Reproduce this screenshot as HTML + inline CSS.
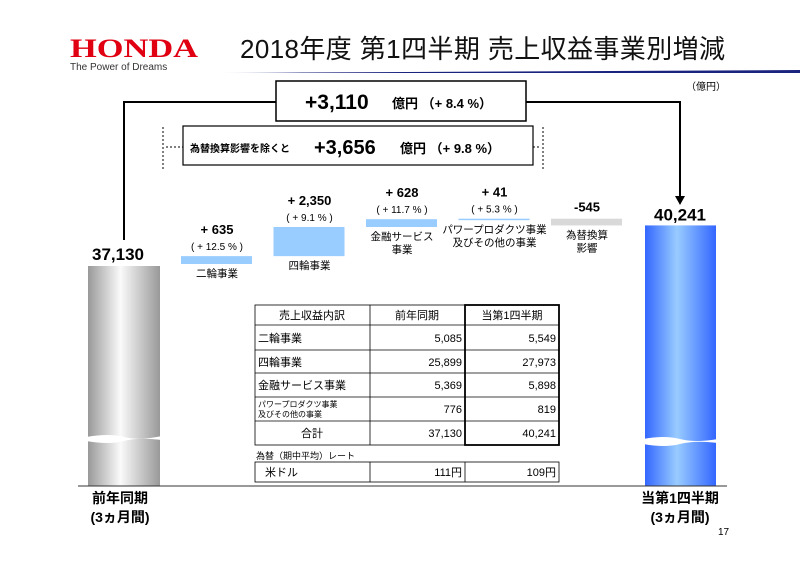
<!DOCTYPE html>
<html><head><meta charset="utf-8"><style>
body{margin:0;width:800px;height:566px;background:#fff;overflow:hidden;font-family:"Liberation Sans","Noto Sans CJK JP",sans-serif}
svg{display:block}
</style></head><body>
<svg width="800" height="566" viewBox="0 0 800 566" id="s">
<defs>
<linearGradient id="gg" x1="0" x2="1"><stop offset="0" stop-color="#999"/><stop offset="0.45" stop-color="#fafafa"/><stop offset="1" stop-color="#999"/></linearGradient>
<linearGradient id="bg" x1="0" x2="1"><stop offset="0" stop-color="#3366ff"/><stop offset="0.45" stop-color="#99ccff"/><stop offset="1" stop-color="#3366ff"/></linearGradient>
<linearGradient id="tl" x1="0" x2="1"><stop offset="0" stop-color="#fff"/><stop offset="0.15" stop-color="#1a237e"/><stop offset="1" stop-color="#1a237e"/></linearGradient>
</defs>
<g>
<text x="70" y="57" font-family="Liberation Serif,serif" font-weight="bold" font-size="26" fill="#e00012" textLength="128" lengthAdjust="spacingAndGlyphs">HONDA</text>
<text x="70" y="70" font-size="10" fill="#333">The Power of Dreams</text>
<text x="240" y="58" font-size="26" fill="#111" textLength="485">2018年度 第1四半期 売上収益事業別増減</text>
<polygon points="215,73 800,70 800,73" fill="url(#tl)"/>
<text x="726" y="90" font-size="10" text-anchor="end">（億円）</text>
</g>
<g>
<polyline points="124,240 124,102 276,102" fill="none" stroke="#000" stroke-width="2"/>
<polyline points="526,102 680,102 680,198" fill="none" stroke="#000" stroke-width="2"/>
<polygon points="675,196 685,196 680,205" fill="#000"/>
<rect x="276" y="81" width="250" height="40" fill="#fff" stroke="#000" stroke-width="1.5"/>
<text x="305" y="109" font-size="21" font-weight="bold">+3,110</text>
<text x="392" y="108" font-size="13" font-weight="bold">億円 （+ 8.4 %）</text>
</g>
<g>
<line x1="163" y1="127" x2="163" y2="170" stroke="#000" stroke-dasharray="2,2"/>
<line x1="543" y1="127" x2="543" y2="170" stroke="#000" stroke-dasharray="2,2"/>
<line x1="166" y1="147" x2="183" y2="147" stroke="#000" stroke-dasharray="2,2"/>
<line x1="533" y1="147" x2="540" y2="147" stroke="#000" stroke-dasharray="2,2"/>
<rect x="183" y="126" width="350" height="39" fill="#fff" stroke="#000" stroke-width="1.2"/>
<text x="190" y="152" font-size="10" font-weight="bold">為替換算影響を除くと</text>
<text x="314" y="154" font-size="20" font-weight="bold">+3,656</text>
<text x="400" y="153" font-size="13" font-weight="bold">億円 （+ 9.8 %）</text>
</g>
<g id="bars"></g>
<line x1="78" y1="486" x2="727" y2="486" stroke="#333"/>
<g font-size="11">
<rect x="255" y="305" width="304" height="140" fill="none" stroke="#000" stroke-width="0.8"/>
<line x1="370" y1="305" x2="370" y2="445" stroke="#000" stroke-width="0.8"/>
<g stroke="#000" stroke-width="0.8"><line x1="255" y1="325" x2="559" y2="325"/><line x1="255" y1="350" x2="559" y2="350"/><line x1="255" y1="373" x2="559" y2="373"/><line x1="255" y1="397" x2="559" y2="397"/><line x1="255" y1="421" x2="559" y2="421"/></g>
<rect x="465" y="305" width="94" height="140" fill="none" stroke="#000" stroke-width="1.8"/>
<g text-anchor="middle"><text x="312" y="319">売上収益内訳</text><text x="417" y="319">前年同期</text><text x="512" y="319">当第1四半期</text><text x="312" y="437">合計</text></g>
<text x="258" y="342">二輪事業</text><text x="258" y="366">四輪事業</text><text x="258" y="389">金融サービス事業</text>
<text x="258" y="407" font-size="8">パワープロダクツ事業</text><text x="258" y="417" font-size="8">及びその他の事業</text>
<g text-anchor="end"><text x="462" y="342">5,085</text><text x="556" y="342">5,549</text><text x="462" y="366">25,899</text><text x="556" y="366">27,973</text><text x="462" y="389">5,369</text><text x="556" y="389">5,898</text><text x="462" y="413">776</text><text x="556" y="413">819</text><text x="462" y="437">37,130</text><text x="556" y="437">40,241</text>
<text x="462" y="476">111円</text><text x="556" y="476">109円</text></g>
<text x="256" y="459" font-size="9">為替（期中平均）レート</text>
<rect x="255" y="462" width="304" height="20" fill="none" stroke="#000" stroke-width="0.8"/>
<line x1="370" y1="462" x2="370" y2="482" stroke="#000" stroke-width="0.8"/><line x1="465" y1="462" x2="465" y2="482" stroke="#000" stroke-width="0.8"/>
<text x="265" y="476">米ドル</text>
</g>
<g font-size="14" font-weight="bold" text-anchor="middle">
<text x="120" y="503">前年同期</text><text x="120" y="522">(3ヵ月間)</text>
<text x="680" y="503">当第1四半期</text><text x="680" y="522">(3ヵ月間)</text>
</g>
<text x="718" y="535" font-size="10">17</text>
</svg>
<script>
const startValue = 37130;
const endValue = 40241;
const segNames = ["二輪事業","四輪事業","金融サービス\n事業","パワープロダクツ事業\n及びその他の事業","為替換算\n影響"];
const segDeltas = [635, 2350, 628, 41, -545];
const segLabels = ["+ 635","+ 2,350","+ 628","+ 41","-545"];
const segPcts = ["( + 12.5 % )","( + 9.1 % )","( + 11.7 % )","( + 5.3 % )",""];
const NS="http://www.w3.org/2000/svg";
const g=document.getElementById('bars');
function y(v){return 264-(v-startValue)*0.0124;}
function mk(t,a,txt){const e=document.createElementNS(NS,t);for(const k in a)e.setAttribute(k,a[k]);if(txt!==undefined)e.textContent=txt;g.appendChild(e);return e;}
let r=mk('rect',{x:88,y:y(startValue)+2,width:72,height:486-y(startValue)-2,fill:'url(#gg)'});


mk('path',{d:'M86,437 Q110,433 124,437 T162,436 L162,440 Q138,437 124,441 T86,441Z',fill:'#fff'});
let t=mk('text',{x:118,y:y(startValue)-4,'font-size':17,'font-weight':'bold','text-anchor':'middle'},'37,130');


let cum=startValue;
segDeltas.forEach((d,i)=>{
  const x=181+i*92.5, a=y(cum), b=y(cum+d);
  const top=Math.min(a,b), h=Math.max(Math.abs(a-b),1.5);
  const br=mk('rect',{x:x,y:top,width:71,height:h,fill:d<0?'#d9d9d9':'#99ccff'});
  
  
  const cx=x+36;
  const hasPct=segPcts[i]!=="";
  const lv=mk('text',{x:cx,y:top-(hasPct?22:7),'font-size':13,'font-weight':'bold','text-anchor':'middle'},segLabels[i]);
  
  
  if(hasPct){const lp=mk('text',{x:cx,y:top-6,'font-size':10,'text-anchor':'middle'},segPcts[i]);
    
    }
  segNames[i].split('\n').forEach((ln,j)=>{
    const nl=mk('text',{x:cx,y:top+h+13+j*13,'font-size':10.5,'text-anchor':'middle'},ln);
    
    
  });
  cum+=d;
});
const ey=y(endValue);
r=mk('rect',{x:645,y:ey,width:71,height:486-ey,fill:'url(#bg)'});


mk('path',{d:'M643,439 Q665,435 680,439 T718,439 L718,443 Q695,440 680,444 T643,444Z',fill:'#fff'});
t=mk('text',{x:680,y:ey-5,'font-size':17,'font-weight':'bold','text-anchor':'middle'},'40,241');


</script>
</body></html>
